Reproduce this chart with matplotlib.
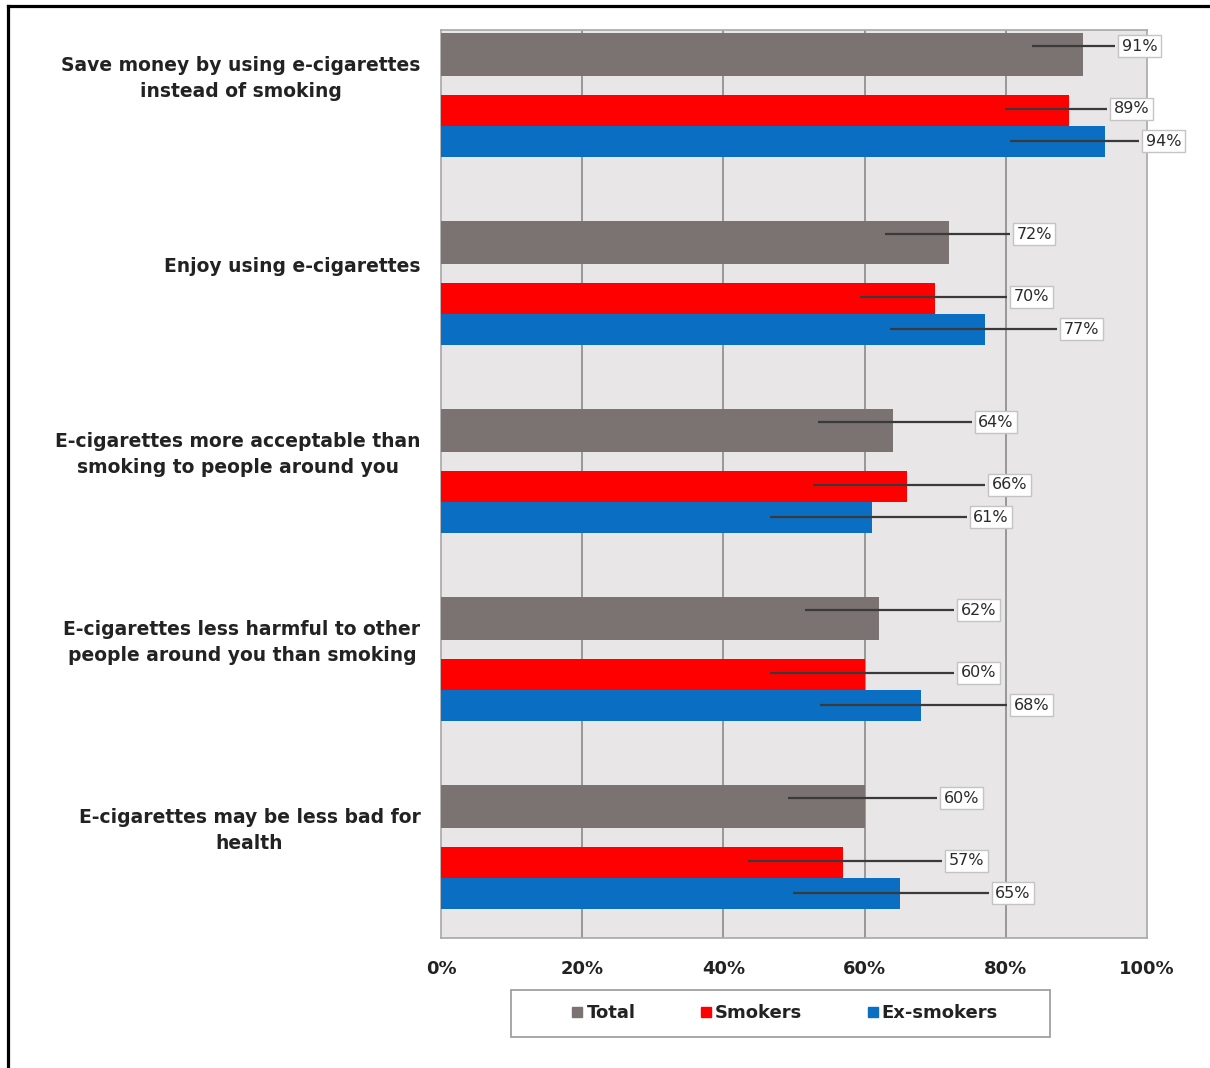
import matplotlib
matplotlib.use("Agg")
import matplotlib.pyplot as plt
from matplotlib.lines import Line2D
from matplotlib.patches import Rectangle
import numpy as np

categories = [
    "Save money by using e-cigarettes\ninstead of smoking",
    "Enjoy using e-cigarettes",
    "E-cigarettes more acceptable than\nsmoking to people around you",
    "E-cigarettes less harmful to other\npeople around you than smoking",
    "E-cigarettes may be less bad for\nhealth",
]
series_names = ["Total", "Smokers", "Ex-smokers"]
total = [91, 72, 64, 62, 60]
smokers = [89, 70, 66, 60, 57]
ex_smokers = [94, 77, 61, 68, 65]
x_ticks = [0, 20, 40, 60, 80, 100]
x_ticklabels = ["0%", "20%", "40%", "60%", "80%", "100%"]

# layout (not data): label box left offset and leader start offset relative to value (in %)
label_off = [[4.9, 9.0, 11.6, 11.1, 10.7],
             [5.8, 10.6, 11.5, 13.1, 14.4],
             [5.3, 10.7, 13.9, 12.6, 13.0]]
line_off = [[-7.3, -9.1, -10.6, -10.4, -10.8],
            [-9.1, -10.7, -13.3, -13.4, -13.5],
            [-13.4, -13.4, -14.4, -14.3, -15.1]]
bar_center = [0.130, 0.428, 0.593]
bar_height = [0.229, 0.165, 0.165]
label_dy = [-0.043, -0.008, 0.0]
colors = ["#7a7371", "#ff0000", "#0a6ec2"]

FONT = "DejaVu Sans"
W, H = 1210, 1068
fig = plt.figure(figsize=(W / 100, H / 100), dpi=100)
ax = fig.add_axes([441 / W, 1 - 938 / H, 706 / W, 908 / H])
ax.set_facecolor("#e8e6e6")

n = len(categories)
idx = np.arange(n)
data = [total, smokers, ex_smokers]
for s in range(3):
    ax.barh(idx + bar_center[s], data[s], height=bar_height[s], color=colors[s],
            zorder=3, label=series_names[s])

for g in x_ticks[1:-1]:
    ax.axvline(g, color="#8a8a8a", lw=1.2, zorder=1)

for s in range(3):
    for i in range(n):
        v = data[s][i]
        y = i + bar_center[s] + label_dy[s]
        xl = v + label_off[s][i]
        ax.plot([v + line_off[s][i], xl - 0.4], [y, y], color="#3a3a3a", lw=1.6,
                zorder=4, solid_capstyle="butt", clip_on=False)
        ax.text(xl + 0.5, y, f"{v}%", ha="left", va="center", fontsize=11.5,
                family=FONT, color="#2a2a2a", zorder=5, clip_on=False,
                bbox=dict(boxstyle="square,pad=0.22", fc="white", ec="#c4c4c4", lw=1.0))

ax.set_xlim(0, 100)
ax.set_ylim(908 / 188, 0)
ax.set_xticks(x_ticks)
ax.set_xticklabels(x_ticklabels, fontsize=13, fontweight="bold", family=FONT, color="#222222")
ax.tick_params(axis="x", length=0, pad=16)
ax.set_yticks([])
for sp in ax.spines.values():
    sp.set_color("#a8a8a8")
    sp.set_linewidth(1.2)

for i, c in enumerate(categories):
    ax.text(-0.029, i + 0.258, c, transform=ax.get_yaxis_transform(), ha="right",
            va="center", multialignment="center", fontsize=13.5, fontweight="bold",
            family=FONT, color="#222222", linespacing=1.45)

# legend box
fig.patches.append(Rectangle((511 / W, 1 - 1037 / H), 539 / W, 47 / H,
                             transform=fig.transFigure, fc="white", ec="#a0a0a0",
                             lw=1.3, zorder=0))
handles = [Line2D([], [], marker="s", ls="none", color=c, markersize=7) for c in colors]
leg = fig.legend(handles, series_names, loc="center", bbox_to_anchor=(784 / W, 1 - 1013 / H),
                 ncol=3, frameon=False, handletextpad=0.1, columnspacing=3.5,
                 handlelength=0.8, prop=dict(family=FONT, weight="bold", size=13))
for t in leg.get_texts():
    t.set_color("#222222")

# figure border (top and left)
fig.add_artist(Line2D([8 / W, 1], [1 - 6 / H, 1 - 6 / H], transform=fig.transFigure,
                      color="black", lw=2.3))
fig.add_artist(Line2D([8 / W, 8 / W], [0, 1 - 6 / H], transform=fig.transFigure,
                      color="black", lw=2.3))

fig.savefig("out.png", dpi=100, facecolor="white")
